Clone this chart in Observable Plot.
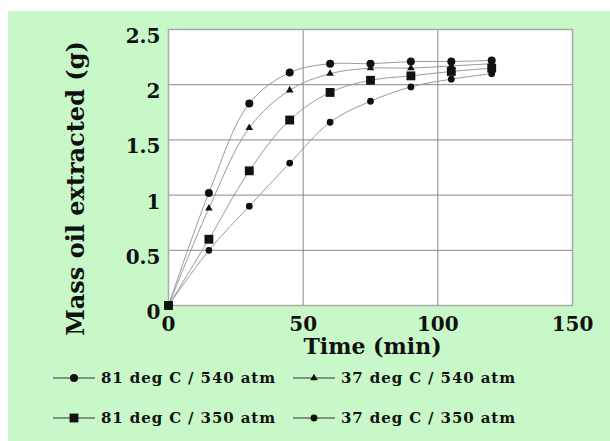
<!DOCTYPE html>
<html>
<head>
<meta charset="utf-8">
<script src="https://cdn.jsdelivr.net/npm/d3@7"></script>
<script src="https://cdn.jsdelivr.net/npm/@observablehq/plot@0.6"></script>
<style>
  html, body { margin: 0; padding: 0; background: #ffffff; }
  #wrap { position: absolute; left: 8px; top: 11px; width: 602px; height: 430px; background: #c8f8c8; overflow: hidden; }
  #chart svg { display: block; }
  #legend { position: absolute; left: 0; top: 0; width: 602px; height: 430px; pointer-events: none; }
  .item { position: absolute; display: flex; align-items: center; font-family: "DejaVu Serif", serif; font-weight: bold; font-size: 15px; color: #111; letter-spacing: 0.9px; white-space: nowrap; }
  .item svg { margin-right: 6px; }
</style>
</head>
<body>
<div id="wrap">
  <div id="chart"></div>
  <div id="legend"></div>
</div>
<script>
const times = [0, 15, 30, 45, 60, 75, 90, 105, 120];
const seriesNames = ["81 deg C / 540 atm", "37 deg C / 540 atm", "81 deg C / 350 atm", "37 deg C / 350 atm"];
const mass81_540 = [0, 1.02, 1.83, 2.11, 2.19, 2.19, 2.21, 2.21, 2.22];
const mass37_540 = [0, 0.88, 1.61, 1.95, 2.10, 2.15, 2.15, 2.17, 2.19];
const mass81_350 = [0, 0.60, 1.22, 1.68, 1.93, 2.04, 2.08, 2.12, 2.15];
const mass37_350 = [0, 0.50, 0.90, 1.29, 1.66, 1.85, 1.98, 2.05, 2.10];
const xTicks = [0, 50, 100, 150];
const yTicks = [0, 0.5, 1, 1.5, 2, 2.5];
const seriesSymbols = ["circle", "triangle", "square", "circle"];
const seriesRadius = [4, 2.8, 5, 3.4];

const allSeries = [mass81_540, mass37_540, mass81_350, mass37_350];
const rows = [];
allSeries.forEach((vals, si) => {
  vals.forEach((v, i) => rows.push({series: seriesNames[si], time: times[i], mass: v}));
});

const serif = "DejaVu Serif, serif";

const dotMarks = seriesNames.map((name, si) =>
  Plot.dot(rows.filter(d => d.series === name), {
    x: "time", y: "mass", symbol: () => seriesSymbols[si], r: seriesRadius[si], fill: "#111", stroke: "none"
  })
);

const chart = Plot.plot({
  width: 602,
  height: 360,
  marginLeft: 160,
  marginRight: 38,
  marginTop: 18,
  marginBottom: 66,
  style: { background: "transparent", fontFamily: serif, fontWeight: "bold", color: "#111", overflow: "visible" },
  x: { domain: [0, 150] },
  y: { domain: [0, 2.5] },
  symbol: { type: "identity" },
  marks: [
    Plot.frame({ fill: "white", stroke: "none" }),
    Plot.gridX([50, 100], { stroke: "#888", strokeOpacity: 1, strokeWidth: 1 }),
    Plot.gridY([0.5, 1, 1.5, 2], { stroke: "#888", strokeOpacity: 1, strokeWidth: 1 }),
    Plot.frame({ stroke: "#aaa", strokeWidth: 1.5 }),
    Plot.line(rows, { x: "time", y: "mass", z: "series", curve: "catmull-rom", stroke: "#999", strokeWidth: 1 }),
    ...dotMarks,
    Plot.axisX({ ticks: xTicks, tickSize: 0, tickPadding: 11, tickFormat: d => String(d), label: null, fontSize: 20, letterSpacing: "2px" }),
    Plot.axisY({ ticks: yTicks, tickSize: 0, tickPadding: 8, dy: 7, tickFormat: d => String(d), label: null, fontSize: 20, letterSpacing: "2.5px" }),
    Plot.text(["Time (min)"], { frameAnchor: "bottom", dx: 2, dy: 48, fontSize: 22, fontWeight: "bold", letterSpacing: "3px", fill: "#111" }),
    Plot.text(["Mass oil extracted (g)"], { frameAnchor: "left", textAnchor: "middle", rotate: -90, dx: -92, dy: 21, fontSize: 24, fontWeight: "bold", letterSpacing: "1.8px", fill: "#111" })
  ]
});
document.getElementById("chart").appendChild(chart);

// Legend
const legendPos = [
  { left: 45, top: 378 },
  { left: 285, top: 378 },
  { left: 45, top: 418 },
  { left: 285, top: 418 }
];
const legend = document.getElementById("legend");
seriesNames.forEach((name, si) => {
  const item = document.createElement("div");
  item.className = "item";
  const w = 42, h = 20;
  item.style.left = legendPos[si].left + "px";
  item.style.top = (legendPos[si].top - 11 - h / 2) + "px";
  const svg = d3.create("svg").attr("width", w).attr("height", h);
  svg.append("line").attr("x1", 0).attr("x2", w).attr("y1", h / 2).attr("y2", h / 2).attr("stroke", "#333").attr("stroke-width", 1.2);
  const sym = { circle: d3.symbolCircle, triangle: d3.symbolTriangle, square: d3.symbolSquare }[seriesSymbols[si]];
  const r = seriesRadius[si];
  svg.append("path").attr("d", d3.symbol(sym, Math.PI * r * r)()).attr("transform", `translate(${w / 2},${h / 2})`).attr("fill", "#111");
  item.appendChild(svg.node());
  const span = document.createElement("span");
  span.textContent = name;
  item.appendChild(span);
  legend.appendChild(item);
});
</script>
</body>
</html>
